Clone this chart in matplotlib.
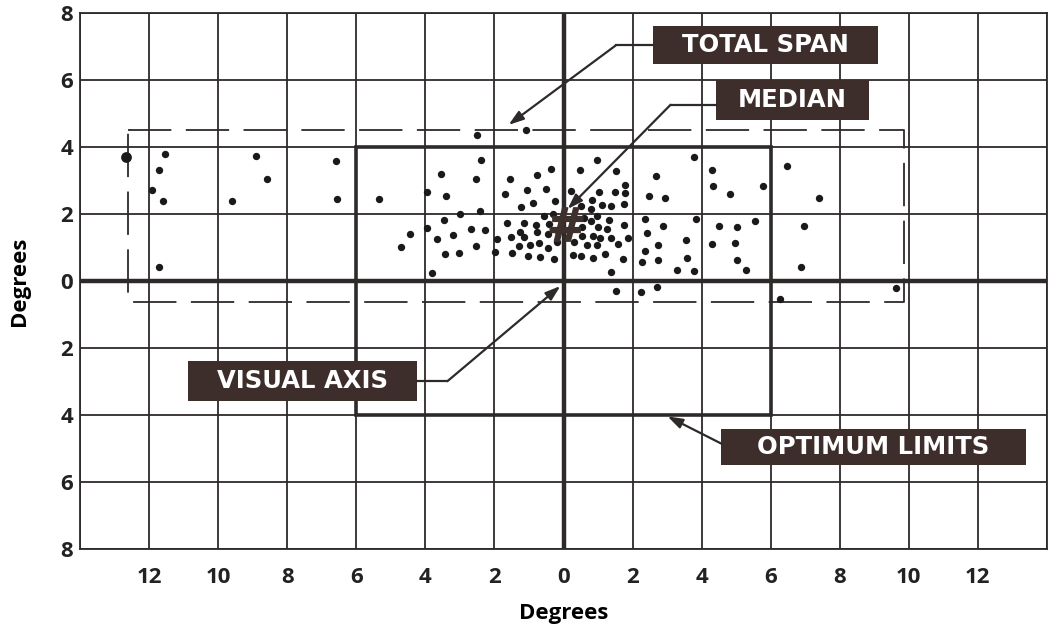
"""
Scatter of fixation points around the visual axis, with span and optimum limits
"""

import matplotlib
matplotlib.use("Agg")
import matplotlib.pyplot as plt
import matplotlib.patches as patches

plt.rcParams['font.family'] = ['Open Sans', 'DejaVu Sans']
plt.rcParams['font.weight'] = 'bold'

# observed points (degrees, left/down are negative)
pts_x = [-12.67, -11.53, -11.72, -11.91, -11.61, -11.72, -8.91, -8.59, -9.59, -6.59,
         -6.57, -5.35,
         -2.50, -1.08, -2.39, -3.54, -2.53, -3.95, -3.41, -1.54, -0.76, -0.35, -1.70,
         -1.07, -0.50, -0.89, -1.24, -0.26, -2.99, -2.43, -3.46, -3.95, -2.68, -2.28,
         -4.44, -4.70, -3.20, -3.67, -2.53, -3.43, -3.02, -3.81, -1.65, -1.13, -0.80,
         -0.43, -1.25, -1.15, -1.51, -0.76, -0.46, -1.94, -1.30, -0.96, -0.70, -0.44,
         -1.97, -1.49, -1.03, -0.67, -0.27, -0.57, -0.30, -0.15,
         0.96, 0.47, 1.52, 1.77, 1.77, 0.22, 1.03, 1.48, 0.83, 1.11, 1.37, 1.75, 0.51,
         0.80, 0.59, 0.98, 1.33, 1.75, 0.80, 0.54, 0.99, 1.27, 1.86, 1.38, 0.86, 1.05,
         0.54, 0.30, 0.69, 0.96, 1.58, 1.19, 0.85, 0.52, 0.27, 1.73, -0.18, 1.38, 1.52,
         2.25, 2.72, 3.78, 2.69, 2.49, 2.93, 4.31, 4.34, 4.82, 5.78, 6.48, 2.35, 2.43,
         2.89, 3.84, 2.74, 3.54, 2.35, 2.28, 2.74, 3.30, 3.59, 3.78, 4.50, 5.03, 5.54,
         4.30, 4.96, 5.01, 5.28, 6.87, 6.27, 7.40, 6.95, 9.62]
pts_y = [3.70, 3.80, 3.30, 2.73, 2.38, 0.41, 3.72, 3.04, 2.40, 3.57,
         2.45, 2.45,
         4.37, 4.51, 3.62, 3.20, 3.03, 2.67, 2.53, 3.05, 3.15, 3.33, 2.60,
         2.72, 2.75, 2.33, 2.21, 2.38, 2.01, 2.09, 1.83, 1.57, 1.55, 1.53,
         1.41, 1.02, 1.37, 1.24, 1.05, 0.81, 0.83, 0.25, 1.73, 1.73, 1.67,
         1.71, 1.46, 1.31, 1.31, 1.47, 1.40, 1.26, 1.04, 1.06, 1.14, 0.98,
         0.86, 0.84, 0.74, 0.71, 0.66, 1.95, 2.00, 1.50,
         3.61, 3.30, 3.28, 2.88, 2.62, 2.69, 2.67, 2.67, 2.42, 2.27, 2.23, 2.30, 2.23,
         2.15, 1.89, 1.95, 1.83, 1.67, 1.79, 1.60, 1.62, 1.55, 1.29, 1.29, 1.34, 1.28,
         1.35, 1.17, 1.06, 1.06, 1.10, 0.81, 0.68, 0.76, 0.78, 0.66, 1.16, 0.26, -0.31,
         -0.34, -0.19, 3.70, 3.13, 2.53, 2.47, 3.30, 2.83, 2.60, 2.83, 3.43, 1.85, 1.43,
         1.65, 1.85, 1.08, 1.23, 0.90, 0.56, 0.63, 0.34, 0.68, 0.29, 1.65, 1.60, 1.80,
         1.11, 1.13, 0.63, 0.33, 0.41, -0.54, 2.48, 1.63, -0.21]

median = (0.06, 1.70)
span_x = [-12.6, 9.86]
span_y = [-0.63, 4.5]
opt_x = [-6, 6]
opt_y = [-4, 4]

x_ticks = [-12, -10, -8, -6, -4, -2, 0, 2, 4, 6, 8, 10, 12]
y_ticks = [-8, -6, -4, -2, 0, 2, 4, 6, 8]

ink = '#2e2a2a'
boxc = '#3d2e2c'

fig = plt.figure(figsize=(10.52, 6.35), dpi=100)
ax = fig.add_axes([80/1052, 1-549/635, (1047-80)/1052, (549-13)/635])
ax.set_xlim(-14, 14)
ax.set_ylim(-8, 8)

# grid
for gx in range(-14, 15, 2):
    ax.axvline(gx, color=ink, lw=1.3, zorder=1)
for gy in range(-8, 9, 2):
    ax.axhline(gy, color=ink, lw=1.3, zorder=1)
ax.axvline(0, color=ink, lw=3.2, zorder=2)
ax.axhline(0, color=ink, lw=3.2, zorder=2)
for s in ax.spines.values():
    s.set_color(ink)
    s.set_linewidth(1.3)

# optimum limits
ax.add_patch(patches.Rectangle((opt_x[0], opt_y[0]), opt_x[1]-opt_x[0], opt_y[1]-opt_y[0],
                               fill=False, ec=ink, lw=2.6, zorder=2))
# total span (dashed)
ax.plot([span_x[0], span_x[1], span_x[1], span_x[0], span_x[0]],
        [span_y[1], span_y[1], span_y[0], span_y[0], span_y[1]],
        color=ink, lw=1.3, dashes=(24, 8), zorder=2)

ax.scatter(pts_x, pts_y, s=28, color='#1a1a1a', zorder=3, linewidths=0)
ax.scatter([pts_x[0]], [pts_y[0]], s=60, color='#1a1a1a', zorder=3, linewidths=0)
ax.plot([median[0]], [median[1]], marker=r'$\#$', ms=24, color='#3e302c', zorder=4)

ax.set_xticks(x_ticks)
ax.set_xticklabels([str(abs(v)) for v in x_ticks])
ax.set_yticks(y_ticks)
ax.set_yticklabels([str(abs(v)) for v in y_ticks])
ax.tick_params(length=0, labelsize=16, colors='#222222')
ax.tick_params(axis='x', pad=13)
ax.tick_params(axis='y', pad=5)
ax.set_xlabel("Degrees", fontsize=16, fontweight='bold', labelpad=11)
ax.set_ylabel("Degrees", fontsize=16, fontweight='bold', labelpad=22)


def label_box(x0, x1, y0, y1, text):
    ax.add_patch(patches.Rectangle((x0, y0), x1-x0, y1-y0, fc=boxc, ec='none', zorder=5))
    ax.text((x0+x1)/2, (y0+y1)/2, text, color='white', fontsize=17.5, fontweight='bold',
            family='DejaVu Sans', ha='center', va='center', zorder=6)


def leader(points, tip):
    xs = [p[0] for p in points]
    ys = [p[1] for p in points]
    ax.plot(xs, ys, color=ink, lw=1.6, zorder=5)
    ax.annotate('', xy=tip, xytext=points[-1],
                arrowprops=dict(arrowstyle='-|>,head_length=0.9,head_width=0.3',
                                color=ink, lw=1.6, shrinkA=0, shrinkB=0), zorder=5)


label_box(2.58, 9.10, 6.49, 7.62, "TOTAL SPAN")
leader([(2.58, 7.03), (1.51, 7.03)], (-1.59, 4.66))

label_box(4.41, 8.84, 4.80, 6.0, "MEDIAN")
leader([(4.41, 5.26), (3.10, 5.26)], (0.12, 2.15))

label_box(-10.87, -4.23, -3.57, -2.40, "VISUAL AXIS")
leader([(-4.23, -2.99), (-3.36, -2.99)], (-0.09, -0.15))

label_box(4.55, 13.39, -5.48, -4.43, "OPTIMUM LIMITS")
leader([(4.60, -4.87), (4.60, -4.87)], (3.01, -4.04))

fig.savefig("out.png", dpi=100)
